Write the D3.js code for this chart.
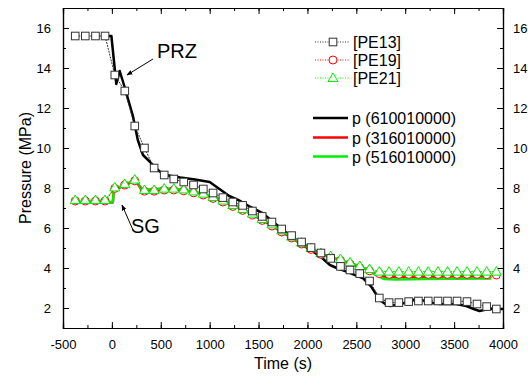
<!DOCTYPE html>
<html>
<head>
<meta charset="utf-8">
<script src="https://cdn.jsdelivr.net/npm/d3@7"></script>
<style>
  body { margin: 0; background: #fff; }
  svg { font-family: "Liberation Sans", Arial, sans-serif; }
</style>
</head>
<body>
<div id="chart"></div>
<script>
const markerTimes = [-375, -272, -168, -70, 30, 132, 234, 333, 432, 535, 633, 735, 835, 935, 1035, 1135,
  1237, 1337, 1437, 1537, 1637, 1737, 1838, 1940, 2037, 2138, 2238, 2338, 2435, 2535, 2635, 2735,
  2835, 2935, 3035, 3135, 3235, 3335, 3432, 3530, 3632, 3734, 3833, 3932];
const pe13 = [15.6, 15.6, 15.6, 15.6, 13.65, 12.85, 11.1, 10.0, 9.0, 8.65, 8.45, 8.3, 8.15, 7.95, 7.75, 7.52,
  7.3, 7.13, 6.85, 6.58, 6.3, 5.95, 5.62, 5.3, 5.02, 4.75, 4.48, 4.08, 3.9, 3.72, 3.35, 2.5,
  2.27, 2.27, 2.32, 2.35, 2.35, 2.35, 2.35, 2.35, 2.32, 2.2, 2.07, 1.95];
const pe19 = [7.35, 7.35, 7.35, 7.35, 7.98, 8.15, 8.36, 7.84, 7.84, 7.9, 7.9, 7.86, 7.76, 7.65, 7.48, 7.3,
  7.08, 6.88, 6.65, 6.38, 6.1, 5.8, 5.5, 5.2, 4.93, 4.68, 4.52, 4.38, 4.2, 4.02, 3.86, 3.72,
  3.68, 3.68, 3.68, 3.68, 3.68, 3.68, 3.68, 3.68, 3.68, 3.68, 3.66, 3.65];
const pe21 = [7.4, 7.4, 7.4, 7.4, 8.03, 8.2, 8.42, 7.9, 7.9, 7.97, 7.97, 7.93, 7.83, 7.72, 7.55, 7.37,
  7.15, 6.95, 6.72, 6.45, 6.18, 5.88, 5.57, 5.27, 5.0, 4.75, 4.6, 4.45, 4.28, 4.1, 3.95, 3.82,
  3.82, 3.82, 3.82, 3.82, 3.82, 3.82, 3.82, 3.82, 3.82, 3.82, 3.82, 3.82];

// calculated curves
const p610Times = [-80, -5, 45, 80, 130, 215, 265, 318, 370, 430, 490, 580, 700, 850, 1000, 1100, 1200, 1300,
  1400, 1545, 1650, 1750, 1850, 1950, 2057, 2150, 2230, 2300, 2400, 2500, 2570, 2650, 2740, 2810,
  2850, 2950, 3010, 3080, 3130, 3180, 3233, 3350, 3520, 3625, 3700, 3760, 3850, 4000];
const p610 = [15.6, 15.6, 13.2, 13.85, 13.05, 11.6, 10.4, 9.65, 9.4, 9.1, 8.82, 8.62, 8.52, 8.42, 8.3, 7.95, 7.6, 7.38,
  7.1, 6.73, 6.3, 5.9, 5.5, 5.15, 4.83, 4.5, 4.15, 4.0, 3.82, 3.62, 3.48, 3.08, 2.4, 2.15,
  2.1, 2.2, 2.27, 2.4, 2.48, 2.38, 2.27, 2.2, 2.2, 2.1, 1.95, 1.85, 1.95, 1.95];
const sgTimes = [-410, 10, 20, 60, 100, 160, 230, 260, 300, 400, 500, 600, 700, 800, 900, 1000, 1100, 1200,
  1300, 1400, 1500, 1600, 1700, 1800, 1900, 2000, 2100, 2200, 2300, 2400, 2500, 2600, 2700, 2780,
  2900, 3200, 3500, 3880];
const p316 = [7.28, 7.28, 7.92, 7.97, 8.07, 8.17, 8.42, 8.27, 7.92, 7.89, 7.94, 7.95, 7.9, 7.82, 7.72, 7.57, 7.42, 7.22,
  7.02, 6.77, 6.5, 6.22, 5.92, 5.62, 5.32, 5.03, 4.78, 4.58, 4.43, 4.28, 4.12, 3.93, 3.7, 3.57,
  3.55, 3.56, 3.57, 3.58];
const p516 = [7.3, 7.3, 7.95, 8.0, 8.1, 8.2, 8.45, 8.3, 7.95, 7.92, 7.97, 7.98, 7.93, 7.85, 7.75, 7.6, 7.45, 7.25,
  7.05, 6.8, 6.52, 6.25, 5.95, 5.65, 5.35, 5.05, 4.8, 4.6, 4.45, 4.3, 4.15, 3.95, 3.65, 3.45,
  3.43, 3.45, 3.46, 3.48];

const xTicks = [-500, 0, 500, 1000, 1500, 2000, 2500, 3000, 3500, 4000];
const yTicks = [2, 4, 6, 8, 10, 12, 14, 16];

const width = 528;
const height = 376;
const margin = { left: 63, right: 25, top: 8, bottom: 48 };

const svg = d3.select("#chart")
  .append("svg")
  .attr("width", width)
  .attr("height", height);

const x = d3.scaleLinear().domain([-500, 4000]).range([margin.left, width - margin.right]);
const y = d3.scaleLinear().domain([1, 17]).range([height - margin.bottom, margin.top]);

const zip = (ts, vs) => ts.map((t, i) => [t, vs[i]]);
const line = d3.line().x(d => x(d[0])).y(d => y(d[1]));
const plain = d => String(d); // hyphen minus like the original

// axes, ticks pointing inward
const x0 = margin.left, x1 = width - margin.right;
const y0 = height - margin.bottom, y1 = margin.top;
const minorX = d3.range(-500, 4001, 250);
const minorY = d3.range(1, 18, 1);

svg.append("g").attr("transform", `translate(0,${y0})`)
  .call(d3.axisBottom(x).tickValues(minorX).tickSize(-3).tickFormat(""));
svg.append("g").attr("transform", `translate(0,${y1})`)
  .call(d3.axisTop(x).tickValues(minorX).tickSize(-3).tickFormat(""));
svg.append("g").attr("transform", `translate(${x0},0)`)
  .call(d3.axisLeft(y).tickValues(minorY).tickSize(-3).tickFormat(""));
svg.append("g").attr("transform", `translate(${x1},0)`)
  .call(d3.axisRight(y).tickValues(minorY).tickSize(-3).tickFormat(""));

svg.append("g").attr("transform", `translate(0,${y0})`)
  .call(d3.axisBottom(x).tickValues(xTicks).tickSize(-6).tickPadding(12).tickFormat(plain));
svg.append("g").attr("transform", `translate(0,${y1})`)
  .call(d3.axisTop(x).tickValues(xTicks).tickSize(-6).tickFormat(""));
svg.append("g").attr("transform", `translate(${x0},0)`)
  .call(d3.axisLeft(y).tickValues(yTicks).tickSize(-6).tickPadding(12).tickFormat(plain));
svg.append("g").attr("transform", `translate(${x1},0)`)
  .call(d3.axisRight(y).tickValues(yTicks).tickSize(-6).tickPadding(10).tickFormat(plain));

svg.selectAll(".domain").attr("stroke", "#000").attr("stroke-width", 1.2);
svg.selectAll(".tick line").attr("stroke", "#000").attr("stroke-width", 1);
svg.selectAll(".tick text").attr("font-size", 13).attr("fill", "#000")
  .attr("font-family", "Liberation Sans, Arial, sans-serif");

// axis titles
svg.append("text").attr("x", (x0 + x1) / 2).attr("y", 369)
  .attr("text-anchor", "middle").attr("font-size", 16).text("Time (s)");
svg.append("text").attr("transform", `translate(31,${(y0 + y1) / 2}) rotate(-90)`)
  .attr("text-anchor", "middle").attr("font-size", 16).text("Pressure (MPa)");

// calculated lines
svg.append("path").datum(zip(p610Times, p610)).attr("d", line)
  .attr("fill", "none").attr("stroke", "#000").attr("stroke-width", 2.5).attr("stroke-linejoin", "round");
svg.append("path").datum(zip(sgTimes, p316)).attr("d", line)
  .attr("fill", "none").attr("stroke", "#ff0000").attr("stroke-width", 2.5).attr("stroke-linejoin", "round");
svg.append("path").datum(zip(sgTimes, p516)).attr("d", line)
  .attr("fill", "none").attr("stroke", "#00ee00").attr("stroke-width", 2.5).attr("stroke-linejoin", "round");

// measured series: thin connecting line + markers
const square = (g, cx, cy) => g.append("rect").attr("x", cx - 3.8).attr("y", cy - 3.8)
  .attr("width", 7.6).attr("height", 7.6).attr("fill", "#fff").attr("stroke", "#333").attr("stroke-width", 1);
const circle = (g, cx, cy) => g.append("circle").attr("cx", cx).attr("cy", cy).attr("r", 4)
  .attr("fill", "#fff").attr("stroke", "#ff0000").attr("stroke-width", 1);
const triangle = (g, cx, cy) => g.append("path")
  .attr("d", `M${cx},${cy - 5}L${cx + 5},${cy + 3.5}L${cx - 5},${cy + 3.5}Z`)
  .attr("fill", "#fff").attr("stroke", "#00ee00").attr("stroke-width", 1);

const measured = [
  { values: pe19, color: "#ff0000", marker: circle },
  { values: pe21, color: "#00ee00", marker: triangle },
  { values: pe13, color: "#333", marker: square }
];

measured.forEach(s => {
  const g = svg.append("g");
  g.append("path").datum(zip(markerTimes, s.values)).attr("d", line)
    .attr("fill", "none").attr("stroke", s.color).attr("stroke-width", 1)
    .attr("stroke-dasharray", "2,1");
  markerTimes.forEach((t, i) => s.marker(g, x(t), y(s.values[i])));
});

// legend
const legendMarks = [
  { name: "[PE13]", color: "#333", marker: square, y: 42 },
  { name: "[PE19]", color: "#ff0000", marker: circle, y: 60 },
  { name: "[PE21]", color: "#00ee00", marker: triangle, y: 78 }
];
legendMarks.forEach(d => {
  const g = svg.append("g");
  g.append("line").attr("x1", 315).attr("x2", 350).attr("y1", d.y).attr("y2", d.y)
    .attr("stroke", d.color).attr("stroke-width", 1).attr("stroke-dasharray", "1,1.5");
  d.marker(g, 333, d.y);
  g.append("text").attr("x", 353).attr("y", d.y + 6).attr("font-size", 16).text(d.name);
});

const legendLines = [
  { name: "p (610010000)", color: "#000", y: 118 },
  { name: "p (316010000)", color: "#ff0000", y: 137.5 },
  { name: "p (516010000)", color: "#00ee00", y: 156.5 }
];
legendLines.forEach(d => {
  svg.append("line").attr("x1", 313).attr("x2", 348).attr("y1", d.y).attr("y2", d.y)
    .attr("stroke", d.color).attr("stroke-width", 2.5);
  svg.append("text").attr("x", 352).attr("y", d.y + 6).attr("font-size", 16).text(d.name);
});

// annotations
svg.append("defs").append("marker")
  .attr("id", "head").attr("viewBox", "0 0 10 10").attr("refX", 9).attr("refY", 5)
  .attr("markerWidth", 6).attr("markerHeight", 6).attr("orient", "auto")
  .append("path").attr("d", "M0,1L10,5L0,9Z").attr("fill", "#000");

svg.append("line").attr("x1", 153).attr("y1", 59).attr("x2", 127).attr("y2", 75)
  .attr("stroke", "#000").attr("stroke-width", 1).attr("marker-end", "url(#head)");
svg.append("text").attr("x", 157).attr("y", 58).attr("font-size", 20).text("PRZ");

svg.append("line").attr("x1", 133).attr("y1", 230).attr("x2", 122).attr("y2", 205)
  .attr("stroke", "#000").attr("stroke-width", 1).attr("marker-end", "url(#head)");
svg.append("text").attr("x", 131).attr("y", 233).attr("font-size", 20).text("SG");
</script>
</body>
</html>
